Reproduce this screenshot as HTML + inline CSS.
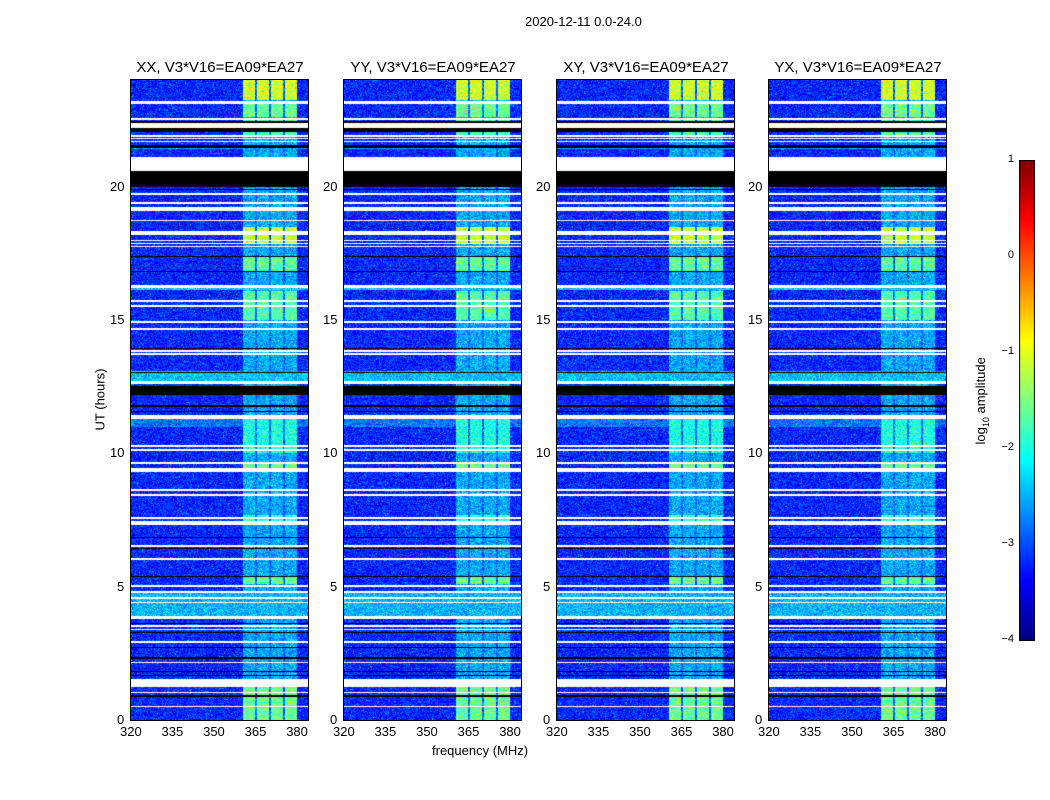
<!DOCTYPE html>
<html><head><meta charset="utf-8">
<style>
body{margin:0;background:#fff;font-family:"Liberation Sans",sans-serif;}
#wrap{position:relative;width:1050px;height:800px;overflow:hidden;}
.t{position:absolute;font-size:13px;color:#000;white-space:nowrap;}
.title{position:absolute;font-size:15px;white-space:nowrap;transform:translateX(-50%);}
canvas{position:absolute;}
</style></head><body>
<div id="wrap">
<div class="t" style="left:525px;top:14px;">2020-12-11 0.0-24.0</div>
<div class="t" style="left:432px;top:743px;">frequency (MHz)</div>
<div class="t" style="left:60px;top:392px;transform:rotate(-90deg);transform-origin:center;width:80px;text-align:center;">UT (hours)</div>
<div class="t" style="left:932px;top:392px;transform:rotate(-90deg);width:100px;text-align:center;">log<sub style="font-size:9px">10</sub> amplitude</div>
<canvas id="cb" width="16" height="481" style="left:1019px;top:160px;"></canvas>
<div id="root"></div>
</div>
<script>
const panelTitles=["XX, V3*V16=EA09*EA27","YY, V3*V16=EA09*EA27","XY, V3*V16=EA09*EA27","YX, V3*V16=EA09*EA27"];
const panelLefts=[131,344,557,769];
const xTicks=[320,335,350,365,380];
const yTicks=[0,5,10,15,20];
const cbTicks=[1,0,-1,-2,-3,-4];
// flagged (white) time ranges in hours [start,end]
const whiteRows=[[23.1,23.23],[22.5,22.56],[22.2,22.4],[21.88,21.92],[21.78,21.82],[21.68,21.72],[20.6,21.1],[19.7,19.76],[19.36,19.42],[19.1,19.25],[18.7,18.76],[18.2,18.32],[17.95,18.0],[17.84,17.88],[17.72,17.76],[16.2,16.32],[15.68,15.74],[15.5,15.56],[14.9,14.96],[14.63,14.69],[13.8,13.86],[13.69,13.75],[12.6,12.7],[11.3,11.45],[10.25,10.31],[10.1,10.16],[9.6,9.66],[9.3,9.45],[8.6,8.66],[8.4,8.46],[7.55,7.61],[7.3,7.45],[6.5,6.56],[6.0,6.06],[5.0,5.06],[4.75,4.85],[4.55,4.61],[4.37,4.43],[3.8,3.9],[3.5,3.56],[3.36,3.42],[2.9,2.96],[2.12,2.18],[1.25,1.55],[1.0,1.06],[0.47,0.53]];
// black (no data) ranges
const blackRows=[[22.06,22.46],[21.45,21.55],[20.0,20.57],[19.87,19.93],[17.35,17.4],[16.8,16.85],[13.9,13.95],[13.0,13.05],[12.2,12.52],[11.55,11.6],[11.75,11.8],[6.82,6.87],[6.4,6.45],[5.35,5.4],[3.6,3.65],[3.25,3.3],[2.7,2.75],[2.3,2.35],[1.8,1.85],[1.65,1.7],[0.88,0.93]];
// broadband bright rows [start,end,level]
const bbRows=[[12.7,13.1,-2.45],[3.9,4.8,-2.5],[21.4,21.55,-2.6],[16.12,16.2,-2.4],[11.0,11.28,-2.8]];
// RFI channel blocks (MHz)
const rfiBands=[[360.4,364.8],[365.5,369.8],[370.5,374.9],[375.6,379.9]];
// RFI intensity segments [startHour,endHour,level]
const rfiSegs=[[23.25,24,-1.1],[22.6,23.1,-1.6],[21.9,22.5,-1.7],[17.9,18.5,-1.1],[17.1,17.35,-1.6],[16.85,17.35,-1.7],[15.0,16.1,-1.7],[10.0,11.3,-2.0],[9.4,9.6,-1.6],[8.4,8.5,-1.8],[7.3,7.7,-1.9],[5.1,5.35,-1.6],[0,1.25,-1.6]];
const bgLevel=-3.2, rfiBase=-2.55;

function jet(v){
  function c(x){return Math.max(0,Math.min(1,x));}
  const r=c(1.5-Math.abs(4*v-3)), g=c(1.5-Math.abs(4*v-2)), b=c(1.5-Math.abs(4*v-1));
  return [r*255|0,g*255|0,b*255|0];
}
function lvlToV(l){return (l+4)/5;}
function hash(x,y,p){let h=(x*374761393+y*668265263+p*2147483647)|0;h=(h^(h>>>13))*1274126177|0;return ((h^(h>>>16))>>>0)/4294967296;}
function inR(arr,h){for(const r of arr){if(h>=r[0]&&h<r[1])return r;}return null;}

const W=177,H=640,top0=80;
const xs=f=>(f-320)*2.77;
const ys=h=>H-h*(H/24);
const root=document.getElementById('root');
panelLefts.forEach((L,pi)=>{
  const cv=document.createElement('canvas');
  cv.width=W;cv.height=H;cv.style.left=L+'px';cv.style.top=top0+'px';cv.style.outline='1px solid #000';
  
  
  root.appendChild(cv);
  const ctx=cv.getContext('2d');const img=ctx.createImageData(W,H);
  for(let y=0;y<H;y++){
    const h=(H-y-0.5)*24/H;
    const wr=inR(whiteRows,h), br=inR(blackRows,h), bb=inR(bbRows,h), seg=inR(rfiSegs,h);
    for(let x=0;x<W;x++){
      const f=320+(x+0.5)/2.77;
      let col;
      if(wr)col=[255,255,255];
      else if(br)col=[0,0,0];
      else{
        let l=bb?bb[2]:bgLevel;
        const inB=rfiBands.some(b=>f>=b[0]&&f<b[1]);
        const near=f>=360.4&&f<379.9;
        if(inB)l=Math.max(l,seg?seg[2]:rfiBase);
        else if(near)l=Math.max(l,-2.85);
        const n=hash(x,y,pi);
        l+=(n-0.5)*0.8;
        if(n>0.985)l+=0.35;
        col=jet(Math.max(0,Math.min(1,lvlToV(l))));
      }
      const i=(y*W+x)*4;img.data[i]=col[0];img.data[i+1]=col[1];img.data[i+2]=col[2];img.data[i+3]=255;
    }
  }
  ctx.putImageData(img,0,0);
  const t=document.createElement('div');t.className='title';t.textContent=panelTitles[pi];
  t.style.left=(L+89)+'px';t.style.top='59px';
  
  
  root.appendChild(t);
  xTicks.forEach(v=>{
    const d=document.createElement('div');d.className='t';d.textContent=v;
    d.style.left=(L+xs(v)-11)+'px';d.style.top='724px';
    
    
    root.appendChild(d);
  });
  yTicks.forEach(v=>{
    const d=document.createElement('div');d.className='t';d.textContent=v;
    d.style.left=(L-6-(v>=10?15:8))+'px';d.style.top=(top0+ys(v)-8)+'px';
    
    
    root.appendChild(d);
  });
});
const cb=document.getElementById('cb').getContext('2d');
for(let y=0;y<481;y++){const c=jet(1-y/480);cb.fillStyle=`rgb(${c[0]},${c[1]},${c[2]})`;cb.fillRect(0,y,16,1);}
cb.strokeStyle='#000';cb.strokeRect(0.5,0.5,15,480);
cbTicks.forEach(v=>{
  const d=document.createElement('div');d.className='t';d.textContent=v<0?'\u2212'+(-v):v;
  d.style.left='990px';d.style.width='24px';d.style.textAlign='right';d.style.fontSize='11px';d.style.top=(160+(1-v)*96-7)+'px';
  
  
  document.getElementById('wrap').appendChild(d);
});
</script>
</body></html>
